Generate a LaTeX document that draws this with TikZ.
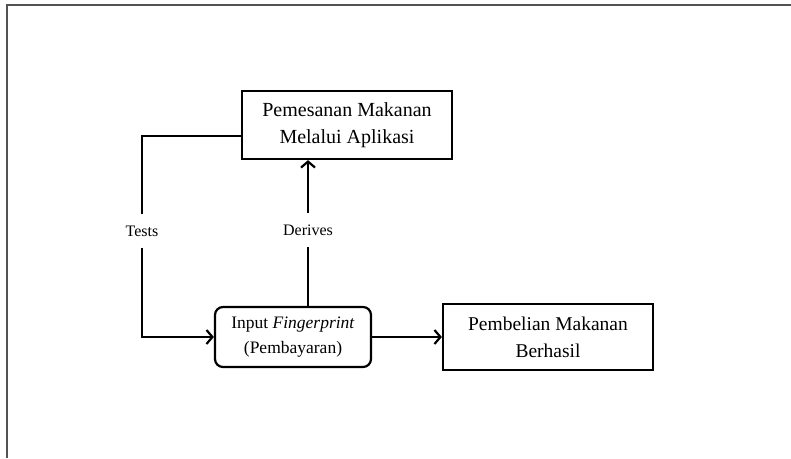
\documentclass[tikz,border=0pt]{standalone}
\usepackage{fontspec}
\setmainfont{Liberation Serif}
\usetikzlibrary{arrows.meta}
\begin{document}
\begin{tikzpicture}[x=1pt,y=-1pt,
  box/.style={draw,line width=2.2pt,align=center,inner sep=0pt},
  lbl/.style={font=\fontsize{16}{18}\selectfont,inner xsep=2pt,inner ysep=11pt},
  conn/.style={line width=2.2pt},
  arr/.style={conn,-{Straight Barb[length=6pt,width=14pt,line width=2.2pt]}}]
\useasboundingbox (0,0) rectangle (791,458);
\draw[gray!65!black,line width=1.6pt] (7,458) -- (7,5) -- (791,5);
\node[box,minimum width=210,minimum height=68,font=\fontsize{20}{27}\selectfont] (b1) at (347,125) {Pemesanan Makanan\\Melalui Aplikasi};
\node[box,rounded corners=8pt,minimum width=156,minimum height=60,font=\fontsize{17.5}{25}\selectfont] (inp) at (293,337) {Input \textit{Fingerprint}\\(Pembayaran)};
\node[box,minimum width=210,minimum height=66,font=\fontsize{19.5}{27}\selectfont] (pb) at (548,337) {Pembelian Makanan\\Berhasil};
\node[lbl] (tests) at (142,231) {Tests};
\node[lbl] (der) at (308,230) {Derives};
\draw[conn] ([yshift=-11pt]b1.west) -| (tests.north);
\draw[arr] (tests.south) |- (inp.west);
\draw[conn] (inp.north -| der) -- (der.south);
\draw[arr] (der.north) -- (der.north |- b1.south);
\draw[arr] (inp.east) -- (pb.west);
\end{tikzpicture}
\end{document}
